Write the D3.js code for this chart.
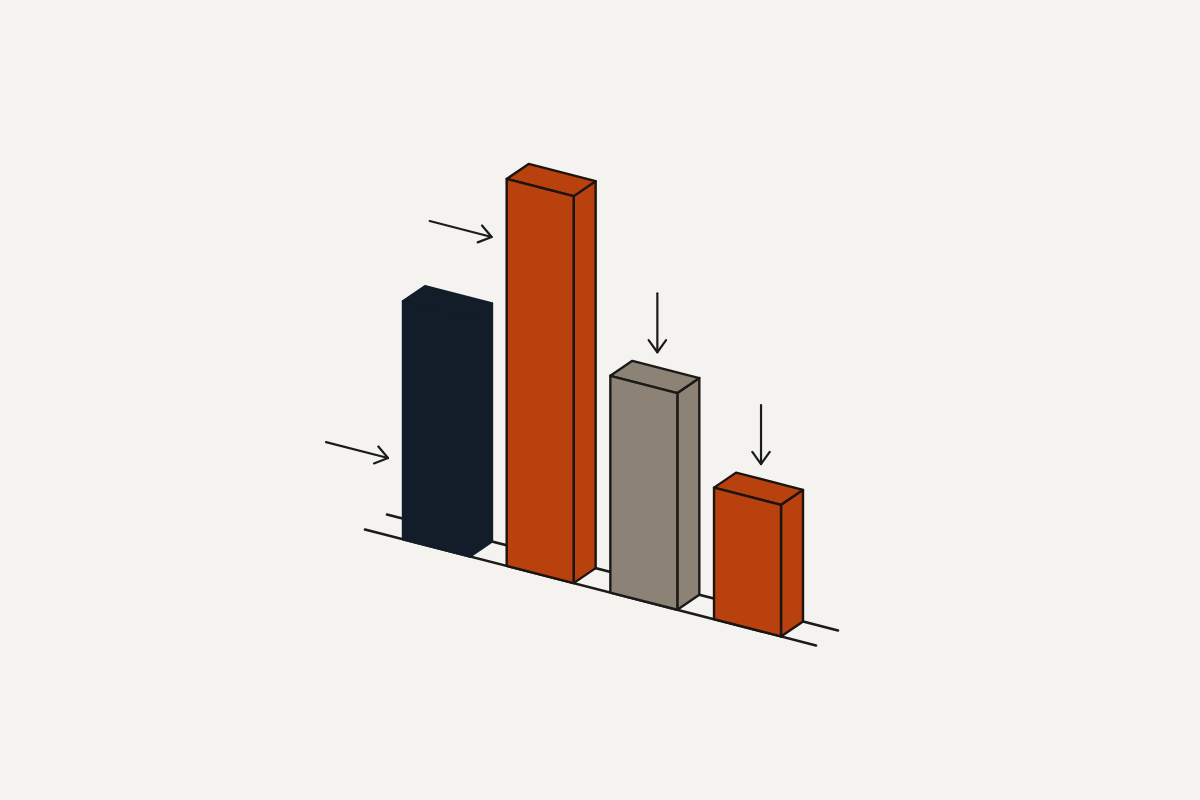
<!DOCTYPE html>
<html>
<head>
<meta charset="utf-8">
<script src="https://cdn.jsdelivr.net/npm/d3@7"></script>
<style>
  html, body { margin: 0; padding: 0; background: #f4f3ef; }
  svg { display: block; }
</style>
</head>
<body>
<svg id="chart" width="1200" height="800"></svg>
<script>
// ---- data ----
const categories = ["A", "B", "C", "D"];
const values = [61.5, 100, 56, 34];
const barColors = ["#131d2a", "#b8410e", "#8c8275", "#b8410e"];
const strokeColors = ["#131d2a", "#1c1410", "#1c1a18", "#1c1410"];
// annotation arrows: side arrows point at a bar's left face at a value level, down arrows point at a bar top
const sideArrows = [{ cat: "A", level: 20 }, { cat: "B", level: 84 }];
const downArrows = ["C", "D"];

// ---- layout ----
const W = 1200, H = 800;
const slope = 0.257;            // baseline slope (down-right)
const baseX0 = 365, baseY0 = 529.5;
const depth = { dx: 22, dy: -15 };
const ink = "#1b1b1b";

const svg = d3.select("#chart");
svg.append("rect").attr("width", W).attr("height", H).attr("fill", "#f4f3ef");

const x = d3.scaleBand().domain(categories).range([403, 781]).paddingInner(0.354).paddingOuter(0);
const h = d3.scaleLinear().domain([0, 100]).range([0, 387]);
const yBase = px => baseY0 + (px - baseX0) * slope;

const bw = x.bandwidth();
const lineStart = x(categories[0]) - 38;
const lineEnd = x(categories[categories.length - 1]) + bw + 35;

// back rail
svg.append("line")
  .attr("x1", lineStart + depth.dx).attr("y1", yBase(lineStart) + depth.dy)
  .attr("x2", lineEnd + depth.dx).attr("y2", yBase(lineEnd) + depth.dy)
  .attr("stroke", ink).attr("stroke-width", 2.6).attr("stroke-linecap", "round");
// front rail
svg.append("line")
  .attr("x1", lineStart).attr("y1", yBase(lineStart))
  .attr("x2", lineEnd).attr("y2", yBase(lineEnd))
  .attr("stroke", ink).attr("stroke-width", 2.6).attr("stroke-linecap", "round");

const bars = categories.map((c, i) => {
  const xl = x(c), xr = xl + bw, hh = h(values[i]);
  const bl = [xl, yBase(xl)], br = [xr, yBase(xr)];
  const tl = [xl, yBase(xl) - hh], tr = [xr, yBase(xr) - hh];
  const d = p => [p[0] + depth.dx, p[1] + depth.dy];
  return { c, i, bl, br, tl, tr, d };
});

const g = svg.append("g");
const line = d3.line();
bars.forEach(b => {
  const fill = barColors[b.i], st = strokeColors[b.i];
  const bg = g.append("g").attr("stroke", st).attr("stroke-width", 2.4).attr("stroke-linejoin", "round").attr("fill", fill);
  // right face
  bg.append("path").attr("d", line([b.br, b.d(b.br), b.d(b.tr), b.tr]) + "Z");
  // top face
  bg.append("path").attr("d", line([b.tl, b.tr, b.d(b.tr), b.d(b.tl)]) + "Z");
  // front face
  bg.append("path").attr("d", line([b.bl, b.br, b.tr, b.tl]) + "Z");
});

// arrows
const ag = svg.append("g").attr("stroke", ink).attr("stroke-width", 2.2).attr("fill", "none")
  .attr("stroke-linecap", "round").attr("stroke-linejoin", "round");

function arrow(tip, ang, len) {
  const tail = [tip[0] - len * Math.cos(ang), tip[1] - len * Math.sin(ang)];
  const wl = 15, wa = 0.62;
  const w1 = [tip[0] - wl * Math.cos(ang - wa), tip[1] - wl * Math.sin(ang - wa)];
  const w2 = [tip[0] - wl * Math.cos(ang + wa), tip[1] - wl * Math.sin(ang + wa)];
  ag.append("path").attr("d", line([tail, tip]));
  ag.append("path").attr("d", line([w1, tip, w2]));
}

sideArrows.forEach(a => {
  const tx = x(a.cat) - 15;
  const ty = yBase(tx) - h(a.level);
  arrow([tx, ty], Math.atan(slope), 64);
});
downArrows.forEach(c => {
  const tx = x(c) + 47;
  const backY = yBase(tx - depth.dx) - h(values[categories.indexOf(c)]) + depth.dy;
  arrow([tx, backY - 15], Math.PI / 2, 59);
});
</script>
</body>
</html>
